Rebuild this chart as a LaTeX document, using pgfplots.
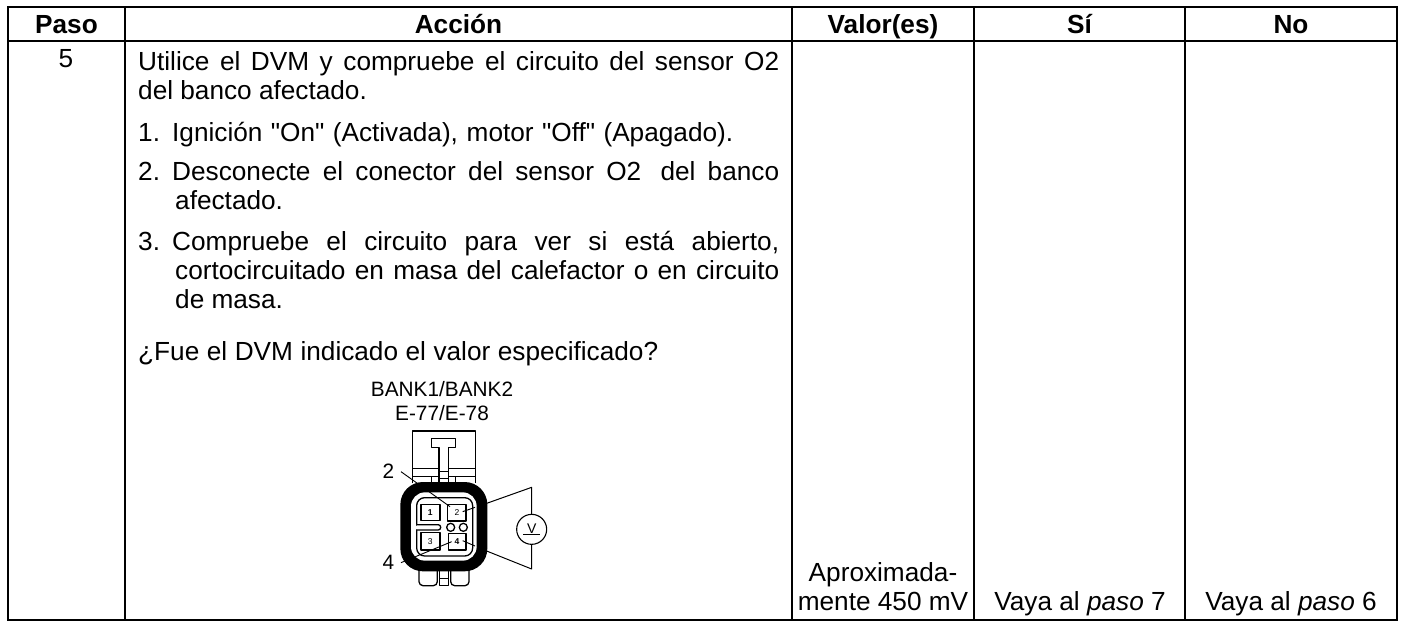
\documentclass[border=0pt]{standalone}
\usepackage{fontspec}
\setmainfont{Liberation Sans}
\newfontfamily\plainfont{Liberation Sans}
\newcommand{\Q}{{\plainfont"}}
\usepackage{pgfplots}
\pgfplotsset{compat=1.18}
\newcommand{\bodyfont}{\fontsize{26.2}{30}\selectfont}
\newcommand{\smallf}{\fontsize{20.8}{25}\selectfont}
\newcommand{\TL}[3]{\node[anchor=base west,inner sep=0pt] at (axis cs:#1,#2) {\bodyfont #3};}
\newcommand{\TC}[3]{\node[anchor=base,inner sep=0pt] at (axis cs:#1,#2) {\bodyfont #3};}
\newcommand{\TJ}[4]{\node[anchor=base west,inner sep=0pt] at (axis cs:#1,#2) {\bodyfont\makebox[#3pt][s]{#4}};}
\pgfplotsset{plain/.style={hide axis,scale only axis,width=1402pt,height=621pt,clip=false,y dir=reverse,
  cycle list={{black,no marks}},axis line style={draw=none},tick style={draw=none}}}
\begin{document}
\begin{tikzpicture}
\path[fill=white] (0,0) rectangle (1402pt,621pt);
\begin{axis}[plain,at={(0,0)},anchor=south west,xmin=0,xmax=1402,ymin=0,ymax=621]
% table rules
\addplot[black,line width=2.2pt,no marks,line cap=rect] coordinates {(8,7) (1397,7)};
\addplot[black,line width=2.2pt,no marks,line cap=rect] coordinates {(8,41) (1397,41)};
\addplot[black,line width=2.2pt,no marks,line cap=rect] coordinates {(8,620) (1397,620)};
\addplot[black,line width=2.2pt,no marks,line cap=rect] coordinates {(8,7) (8,620)};
\addplot[black,line width=2.2pt,no marks,line cap=rect] coordinates {(125,7) (125,620)};
\addplot[black,line width=2.2pt,no marks,line cap=rect] coordinates {(792,7) (792,620)};
\addplot[black,line width=2.2pt,no marks,line cap=rect] coordinates {(974,7) (974,620)};
\addplot[black,line width=2.2pt,no marks,line cap=rect] coordinates {(1185,7) (1185,620)};
\addplot[black,line width=2.2pt,no marks,line cap=rect] coordinates {(1397,7) (1397,620)};
% header
\TC{66.5}{33}{\bfseries Paso}
\TC{458.5}{33}{\bfseries Acción}
\TC{883}{33}{\bfseries Valor(es)}
\TC{1079.5}{33}{\bfseries Sí}
\TC{1291}{33}{\bfseries No}
% body
\TC{66}{67}{5}
\TJ{138}{70.7}{641}{Utilice el DVM y compruebe el circuito del sensor O2}
\TL{138}{99}{del banco afectado.}
\TL{138}{141.7}{1.}
\TJ{172}{141.7}{561}{Ignición \Q On\Q{} (Activada), motor \Q Off\Q{} (Apagado).}
\TL{138}{180}{2.}
\TJ{172}{180}{607}{Desconecte el conector del sensor O2\hspace{7pt} del banco}
\TL{175}{209}{afectado.}
\TL{138}{250.7}{3.}
\TJ{172}{250.7}{607}{Compruebe el circuito para ver si está abierto,}
\TJ{175}{279.3}{604}{cortocircuitado en masa del calefactor o en circuito}
\TL{175}{308}{de masa.}
\TJ{138}{360}{520}{¿Fue el DVM indicado el valor especificado?}
\TC{883}{581}{Aproximada-}
\TC{883}{610}{mente 450 mV}
\TC{1080}{610}{Vaya al \textit{paso} 7}
\TC{1291}{610}{Vaya al \textit{paso} 6}
\node[anchor=base,inner sep=0pt] at (axis cs:442,396) {\smallf BANK1/BANK2};
\node[anchor=base,inner sep=0pt] at (axis cs:442,420) {\smallf E-77/E-78};
\end{axis}
% connector, in crop coordinates (3 units = 1 px)
\begin{axis}[plain,at={(0,0)},anchor=south west,xmin=-1020,xmax=3186,ymin=-1110,ymax=753,
  every axis plot/.append style={line width=1.3pt,line join=round}]
% housing top
\addplot coordinates {(217,340) (217,183) (407,183) (407,340)};
\addplot coordinates {(217,296) (297,296)};
\addplot coordinates {(325,296) (407,296)};
\addplot coordinates {(217,320) (297,320)};
\addplot coordinates {(325,320) (407,320)};
\addplot coordinates {(275,322) (275,342)};
\addplot coordinates {(347,322) (347,342)};
\addplot[black,fill=white] coordinates {(297,305) (325,305) (325,340) (297,340)} --cycle;
\addplot coordinates {(297,326) (325,326)};
\addplot[black,fill=white] coordinates {(275,205) (347,205) (347,232) (325,232) (325,305) (297,305) (297,232) (275,232)} --cycle;
% housing bottom
\addplot[black,rounded corners=4pt] coordinates {(237,600) (237,647) (292,647) (292,600)};
\addplot coordinates {(298,603) (298,647) (325,647) (325,603)};
\addplot coordinates {(298,625) (325,625)};
\addplot[black,rounded corners=4pt] coordinates {(332,600) (332,647) (387,647) (387,600)};
% ring
\addplot[black,fill=black,rounded corners=22pt] coordinates {(183,338) (440,338) (440,602) (183,602)} --cycle;
\addplot[fill=white,draw=none,rounded corners=14pt] coordinates {(213,367) (410,367) (410,572) (213,572)} --cycle;
\addplot[black,fill=white,rounded corners=8pt] coordinates {(230,383) (398,383) (398,558) (230,558)} --cycle;
% pins
\addplot[black,fill=white,line width=1.6pt] coordinates {(243,403) (300,403) (300,452) (243,452)} --cycle;
\addplot[black,fill=white,line width=1.6pt] coordinates {(323,403) (378,403) (378,453) (323,453)} --cycle;
\addplot[black,fill=white,line width=1.6pt] coordinates {(243,488) (300,488) (300,540) (243,540)} --cycle;
\addplot[black,fill=white,line width=1.6pt] coordinates {(325,490) (378,490) (378,540) (325,540)} --cycle;
% slot and small holes
\addplot[black,fill=white,rounded corners=2.5pt] coordinates {(230,464) (302,464) (302,480) (230,480)};
\addplot[draw=white,line width=2pt] coordinates {(230,467) (230,477)};
\draw[black,line width=1.3pt,fill=white] (axis cs:332,472) circle[radius=4pt];
\draw[black,line width=1.3pt,fill=white] (axis cs:370,472) circle[radius=4pt];
\node[inner sep=0pt] at (axis cs:271,427) {\fontsize{8.5}{9}\selectfont\bfseries 1};
\node[inner sep=0pt] at (axis cs:351,427) {\fontsize{8.5}{9}\selectfont 2};
\node[inner sep=0pt] at (axis cs:271,514) {\fontsize{8.5}{9}\selectfont 3};
\node[inner sep=0pt] at (axis cs:351,515) {\fontsize{8.5}{9}\selectfont\bfseries 4};
% leaders
\addplot[black,line width=0.9pt] coordinates {(183,305) (330,410)};
\addplot[black,line width=0.9pt] coordinates {(183,578) (335,515)};
\addplot[black,line width=0.9pt] coordinates {(368,425) (405,412)};
\addplot[black,line width=0.9pt] coordinates {(368,512) (405,528)};
\addplot[black,line width=1pt] coordinates {(440,400) (575,352) (575,433)};
\addplot[black,line width=1pt] coordinates {(440,543) (575,597) (575,523)};
\draw[black,line width=1.1pt,fill=white] (axis cs:575,478) circle[radius=15pt];
\node[anchor=base,inner sep=0pt] at (axis cs:575,490) {\fontsize{14}{15}\selectfont V};
\addplot[black,line width=1pt] coordinates {(550,493) (600,493)};
\node[anchor=base,inner sep=0pt] at (axis cs:145,325) {\smallf 2};
\node[anchor=base,inner sep=0pt] at (axis cs:145,597) {\smallf 4};
\end{axis}
\end{tikzpicture}
\end{document}
